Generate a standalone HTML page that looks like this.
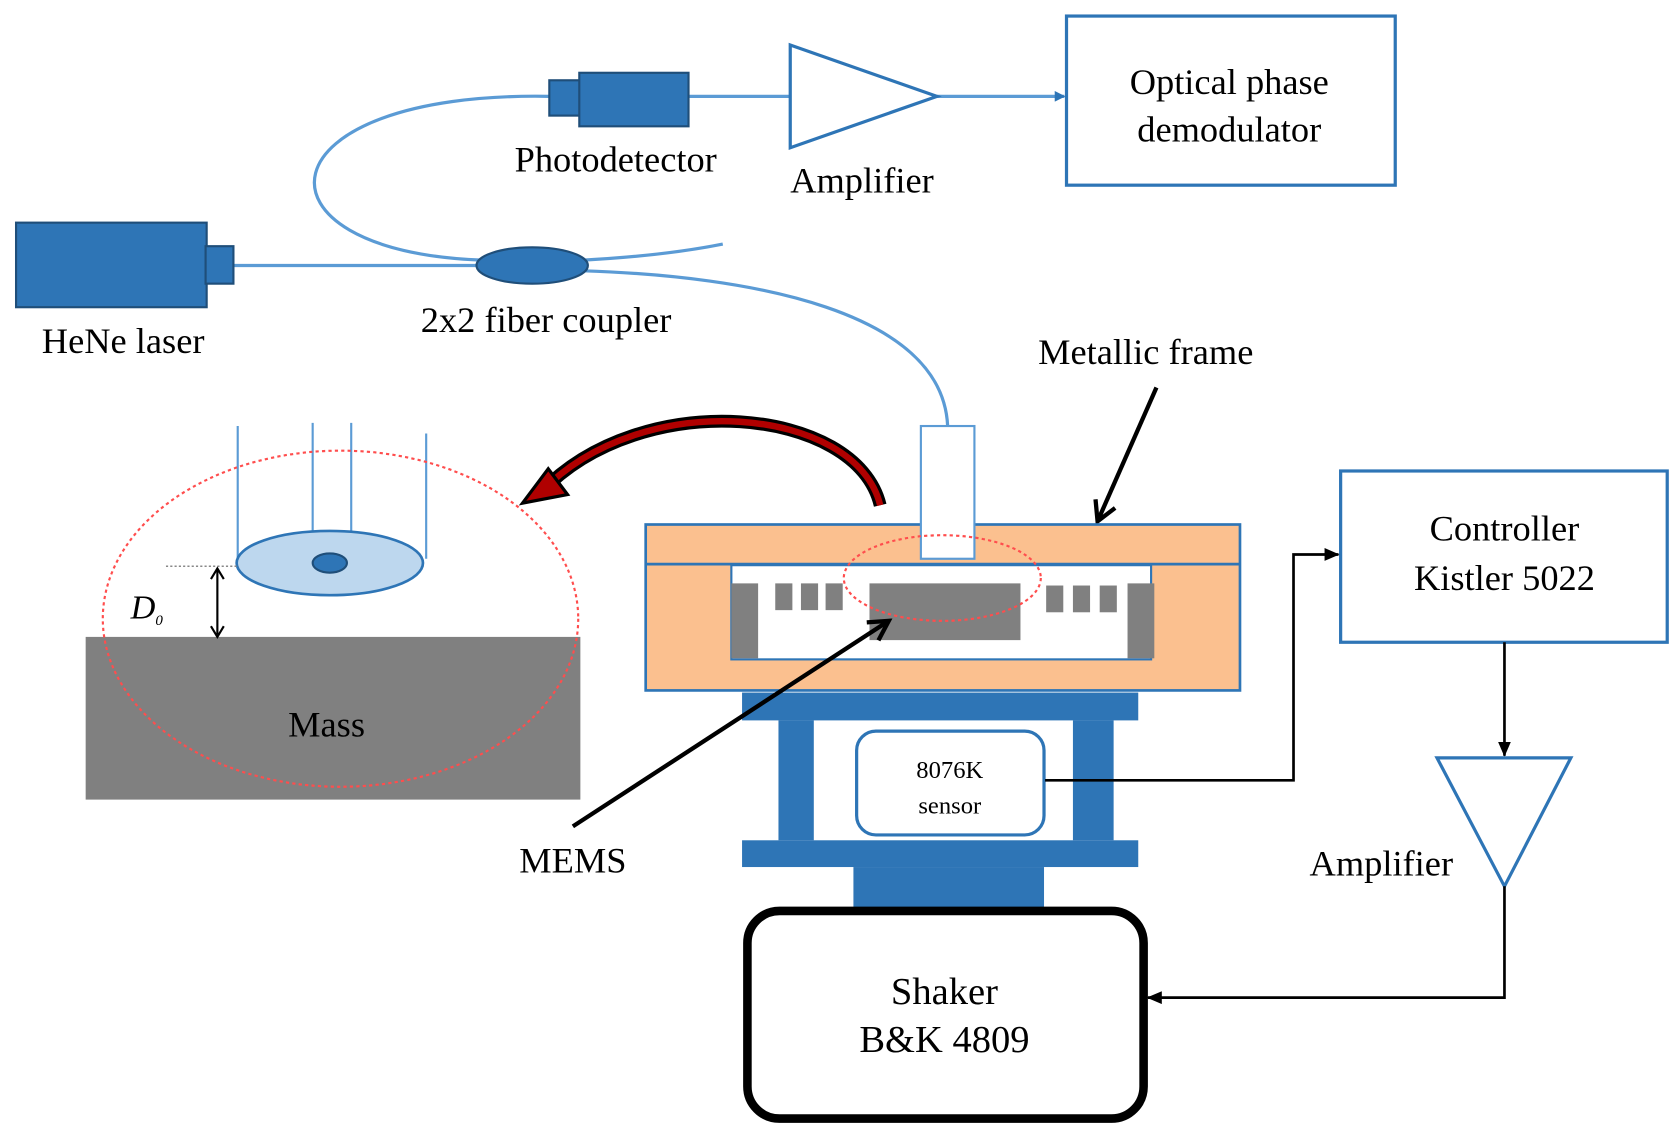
<!DOCTYPE html>
<html><head><style>html,body{margin:0;padding:0;background:#fff}svg{display:block}</style></head>
<body>
<svg width="1679" height="1140" viewBox="0 0 1568 1065" preserveAspectRatio="none" xmlns="http://www.w3.org/2000/svg" font-family="Liberation Serif, serif">
<defs>
<marker id="ab" markerWidth="10" markerHeight="10" refX="9" refY="5" orient="auto" markerUnits="userSpaceOnUse"><path d="M0,0 L10,5 L0,10 z" fill="#2e75b6"/></marker>
<marker id="ak" markerWidth="14" markerHeight="12" refX="13" refY="6" orient="auto" markerUnits="userSpaceOnUse"><path d="M0,0 L14,6 L0,12 z" fill="#000"/></marker>
<marker id="av" markerWidth="24" markerHeight="24" refX="20" refY="12" orient="auto" markerUnits="userSpaceOnUse"><path d="M2,2 L20,12 L2,22" fill="none" stroke="#000" stroke-width="4"/></marker>
</defs>
<!-- fibers -->
<path d="M513,90 C240,85 225,235 450,243" fill="none" stroke="#5b9bd5" stroke-width="3"/>
<line x1="643" y1="90" x2="738" y2="90" stroke="#5b9bd5" stroke-width="3"/>
<line x1="875" y1="90" x2="994" y2="90" stroke="#5b9bd5" stroke-width="3" marker-end="url(#ab)"/>
<line x1="218" y1="248" x2="447" y2="248" stroke="#5b9bd5" stroke-width="3"/>
<path d="M545,243 C600,240 640,235 675,228" fill="none" stroke="#5b9bd5" stroke-width="3"/>
<path d="M545,253 C700,258 880,290 885,398" fill="none" stroke="#5b9bd5" stroke-width="3"/>
<!-- photodetector -->
<rect x="513" y="75" width="30" height="33" fill="#2e75b6" stroke="#1f4e79" stroke-width="2"/>
<rect x="541" y="68" width="102" height="50" fill="#2e75b6" stroke="#1f4e79" stroke-width="2"/>
<polygon points="738,42 738,138 875,90" fill="#fff" stroke="#2e75b6" stroke-width="3"/>
<rect x="996" y="15" width="307" height="158" fill="#fff" stroke="#2e75b6" stroke-width="3"/>
<text x="1148" y="88" font-size="34" text-anchor="middle">Optical phase</text>
<text x="1148" y="132" font-size="34" text-anchor="middle">demodulator</text>
<text x="575" y="160" font-size="34" text-anchor="middle">Photodetector</text>
<text x="805" y="180" font-size="34" text-anchor="middle">Amplifier</text>
<!-- laser -->
<rect x="15" y="208" width="178" height="79" fill="#2e75b6" stroke="#1f4e79" stroke-width="2"/>
<rect x="192" y="230" width="26" height="35" fill="#2e75b6" stroke="#1f4e79" stroke-width="2"/>
<ellipse cx="497" cy="248" rx="52" ry="17" fill="#2e75b6" stroke="#1f4e79" stroke-width="2"/>
<text x="510" y="310" font-size="34" text-anchor="middle">2x2  fiber coupler</text>
<text x="115" y="330" font-size="34" text-anchor="middle">HeNe laser</text>
<text x="1070" y="340" font-size="34" text-anchor="middle">Metallic frame</text>
<line x1="1080" y1="362" x2="1025" y2="487" stroke="#000" stroke-width="4" marker-end="url(#av)"/>
<!-- red curved arrow -->
<path d="M822,472 C800,380 600,360 505,460" fill="none" stroke="#000" stroke-width="12"/>
<path d="M822,472 C800,380 600,360 505,460" fill="none" stroke="#b00000" stroke-width="6"/>
<polygon points="488,470 512,438 530,462" fill="#b00000" stroke="#000" stroke-width="3"/>
<!-- frame -->
<rect x="603" y="490" width="555" height="155" fill="#fbc08f" stroke="#2e75b6" stroke-width="2.5"/>
<line x1="603" y1="527" x2="1158" y2="527" stroke="#2e75b6" stroke-width="2.5"/>
<rect x="683" y="528" width="392" height="88" fill="#fff" stroke="#2e75b6" stroke-width="2"/>
<rect x="683" y="545" width="25" height="70" fill="#808080"/>
<rect x="1053" y="545" width="25" height="70" fill="#808080"/>
<rect x="724" y="545" width="16" height="25" fill="#808080"/>
<rect x="748" y="545" width="16" height="25" fill="#808080"/>
<rect x="771" y="545" width="16" height="25" fill="#808080"/>
<rect x="977" y="547" width="16" height="25" fill="#808080"/>
<rect x="1002" y="547" width="16" height="25" fill="#808080"/>
<rect x="1027" y="547" width="16" height="25" fill="#808080"/>
<rect x="812" y="545" width="141" height="53" fill="#808080"/>
<rect x="860" y="398" width="50" height="124" fill="#fff" stroke="#5b9bd5" stroke-width="2"/>
<ellipse cx="880" cy="540" rx="92" ry="40" fill="none" stroke="#ff4d4d" stroke-width="2" stroke-dasharray="3,3"/>
<!-- stand -->
<rect x="693" y="647" width="370" height="26" fill="#2e75b6"/>
<rect x="727" y="673" width="33" height="112" fill="#2e75b6"/>
<rect x="1002" y="673" width="38" height="112" fill="#2e75b6"/>
<rect x="693" y="785" width="370" height="25" fill="#2e75b6"/>
<rect x="797" y="810" width="178" height="38" fill="#2e75b6"/>
<rect x="800" y="683" width="175" height="97" rx="18" fill="#fff" stroke="#2e75b6" stroke-width="3"/>
<text x="887" y="727" font-size="23" text-anchor="middle">8076K</text>
<text x="887" y="760" font-size="23" text-anchor="middle">sensor</text>
<line x1="535" y1="772" x2="830" y2="580" stroke="#000" stroke-width="4" marker-end="url(#av)"/>
<text x="535" y="815" font-size="34" text-anchor="middle">MEMS</text>
<rect x="698" y="851" width="370" height="194" rx="30" fill="#fff" stroke="#000" stroke-width="8"/>
<text x="882" y="938" font-size="36" text-anchor="middle">Shaker</text>
<text x="882" y="983" font-size="36" text-anchor="middle">B&amp;K 4809</text>
<!-- controller -->
<rect x="1252" y="440" width="305" height="160" fill="#fff" stroke="#2e75b6" stroke-width="3"/>
<text x="1405" y="505" font-size="34" text-anchor="middle">Controller</text>
<text x="1405" y="551" font-size="34" text-anchor="middle">Kistler 5022</text>
<polyline points="976,729 1208,729 1208,518 1250,518" fill="none" stroke="#000" stroke-width="2.5" marker-end="url(#ak)"/>
<line x1="1405" y1="600" x2="1405" y2="706" stroke="#000" stroke-width="2.5" marker-end="url(#ak)"/>
<polygon points="1342,708 1467,708 1405,828" fill="#fff" stroke="#2e75b6" stroke-width="3"/>
<text x="1290" y="818" font-size="34" text-anchor="middle">Amplifier</text>
<polyline points="1405,828 1405,932 1072,932" fill="none" stroke="#000" stroke-width="2.5" marker-end="url(#ak)"/>
<!-- left detail -->
<rect x="80" y="595" width="462" height="152" fill="#808080"/>
<text x="305" y="688" font-size="34" text-anchor="middle">Mass</text>
<line x1="222" y1="398" x2="222" y2="522" stroke="#5b9bd5" stroke-width="2"/>
<line x1="292" y1="395" x2="292" y2="500" stroke="#5b9bd5" stroke-width="2"/>
<line x1="328" y1="395" x2="328" y2="500" stroke="#5b9bd5" stroke-width="2"/>
<line x1="398" y1="405" x2="398" y2="522" stroke="#5b9bd5" stroke-width="2"/>
<ellipse cx="308" cy="526" rx="87" ry="30" fill="#bdd7ee" stroke="#2e75b6" stroke-width="2.5"/>
<ellipse cx="308" cy="526" rx="16" ry="9" fill="#2e75b6" stroke="#1f4e79" stroke-width="2"/>
<line x1="155" y1="529" x2="221" y2="529" stroke="#888" stroke-width="1.5" stroke-dasharray="2,2"/>
<line x1="203" y1="533" x2="203" y2="593" stroke="#000" stroke-width="2"/>
<path d="M197,541 L203,531 L209,541 M197,585 L203,595 L209,585" fill="none" stroke="#000" stroke-width="2"/>
<text x="122" y="578" font-size="32" font-style="italic">D<tspan font-size="14" dy="6">0</tspan></text>
<ellipse cx="318" cy="578" rx="222" ry="157" fill="none" stroke="#ff4d4d" stroke-width="2" stroke-dasharray="3,3"/>
</svg>
</body></html>
